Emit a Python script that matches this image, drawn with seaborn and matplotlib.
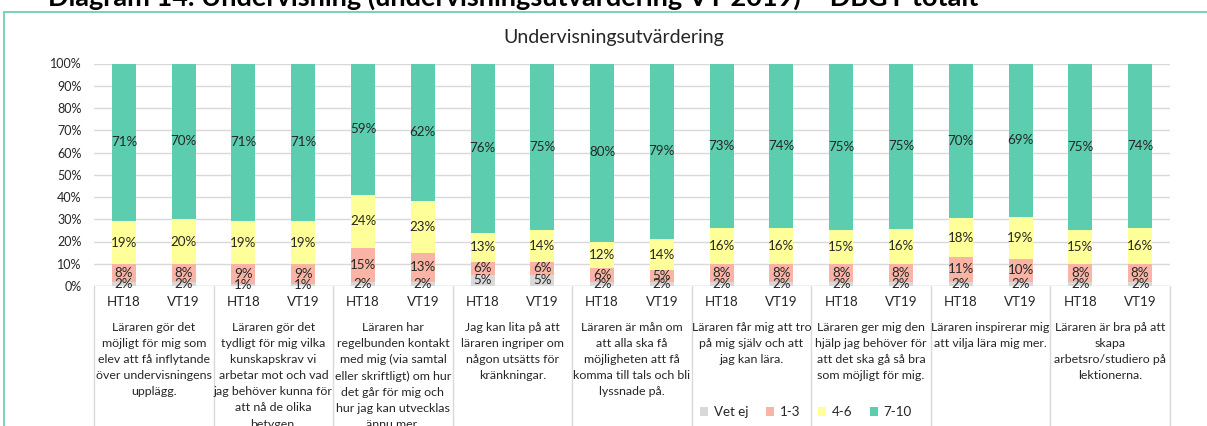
import matplotlib
matplotlib.use("Agg")
import matplotlib.pyplot as plt
import matplotlib.transforms as mtransforms
from matplotlib.patches import Patch, Rectangle
import seaborn as sns
import pandas as pd
import numpy as np

# ---------------- data ----------------
title = "Undervisningsutvärdering"
heading = "Diagram 14. Undervisning (undervisningsutvärdering VT 2019) – DBGY totalt"
periods = ["HT18", "VT19"]
questions = [
    "Läraren gör det\nmöjligt för mig som\nelev att få inflytande\növer undervisningens\nupplägg.",
    "Läraren gör det\ntydligt för mig vilka\nkunskapskrav vi\narbetar mot och vad\njag behöver kunna för\natt nå de olika\nbetygen.",
    "Läraren har\nregelbunden kontakt\nmed mig (via samtal\neller skriftligt) om hur\ndet går för mig och\nhur jag kan utvecklas\nännu mer.",
    "Jag kan lita på att\nläraren ingriper om\nnågon utsätts för\nkränkningar.",
    "Läraren är mån om\natt alla ska få\nmöjligheten att få\nkomma till tals och bli\nlyssnade på.",
    "Läraren får mig att tro\npå mig själv och att\njag kan lära.",
    "Läraren ger mig den\nhjälp jag behöver för\natt det ska gå så bra\nsom möjligt för mig.",
    "Läraren inspirerar mig\natt vilja lära mig mer.",
    "Läraren är bra på att\nskapa\narbetsro/studiero på\nlektionerna.",
]
series = ["Vet ej", "1-3", "4-6", "7-10"]
# one value per bar: order Q1 HT18, Q1 VT19, Q2 HT18, ...
vet_ej = [2, 2, 1, 1, 2, 2, 5, 5, 2, 2, 2, 2, 2, 2, 2, 2, 2, 2]
v13    = [8, 8, 9, 9, 15, 13, 6, 6, 6, 5, 8, 8, 8, 8, 11, 10, 8, 8]
v46    = [19, 20, 19, 19, 24, 23, 13, 14, 12, 14, 16, 16, 15, 16, 18, 19, 15, 16]
v710   = [71, 70, 71, 71, 59, 62, 76, 75, 80, 79, 73, 74, 75, 75, 70, 69, 75, 74]

colors = {"Vet ej": "#D9D9D9", "1-3": "#F9B4A6", "4-6": "#FFFF99", "7-10": "#5CCEAF"}

# ---------------- style ----------------
sns.set_theme(style="white")
plt.rcParams["font.family"] = ["Lato", "DejaVu Sans"]
TXT = "#262626"
FS = 9.6
FSQ = 8.9

W, H = 1207, 426
fig = plt.figure(figsize=(W / 100, H / 100), dpi=100)
ax_l, ax_r, ax_b, ax_t = 94, 1170, 286, 63.5
ax = fig.add_axes([ax_l / W, 1 - ax_b / H, (ax_r - ax_l) / W, (ax_b - ax_t) / H])

n = len(vet_ej)
ids = [f"b{i}" for i in range(n)]
vals = np.array([vet_ej, v13, v46, v710], dtype=float)
pct = vals / vals.sum(axis=0) * 100
cum = np.cumsum(pct, axis=0)

df = pd.DataFrame({"id": ids})
for k, s in enumerate(series):
    df[s] = cum[k]

# draw from top layer down so that lower layers overlay
for k in range(len(series) - 1, -1, -1):
    s = series[k]
    sns.barplot(data=df, x="id", y=s, order=ids, color=colors[s], width=0.4,
                saturation=1, ax=ax, linewidth=0, zorder=3)

# data labels
for i in range(n):
    for k in range(len(series)):
        lo = cum[k - 1, i] if k > 0 else 0
        mid = (lo + cum[k, i]) / 2
        ax.text(i, mid, f"{int(vals[k, i])}%", ha="center", va="center",
                fontsize=FS, color=TXT, zorder=5)

ax.set_ylim(0, 100)
ax.set_xlim(-0.5, n - 0.5)
ax.set_yticks(range(0, 101, 10))
ax.set_yticklabels([f"{v}%" for v in range(0, 101, 10)], fontsize=9, color=TXT)
ax.set_xticks(range(n))
ax.set_xticklabels([periods[i % 2] for i in range(n)], fontsize=FS, color=TXT)
ax.tick_params(axis="both", length=0)
ax.tick_params(axis="y", pad=9)
ax.tick_params(axis="x", pad=7.5)
ax.set_xlabel("")
ax.set_ylabel("")
for sp in ax.spines.values():
    sp.set_visible(False)
ax.grid(axis="y", color="#D9D9D9", lw=1, zorder=0)
ax.set_axisbelow(True)
ax.axhline(0, color="#D9D9D9", lw=1, zorder=1)

trans = mtransforms.blended_transform_factory(ax.transData, ax.transAxes)
for g in range(len(questions) + 1):
    x = g * 2 - 0.5
    ax.plot([x, x], [0, -0.75], transform=trans, color="#D9D9D9", lw=1, clip_on=False)
for g, q in enumerate(questions):
    ax.text(g * 2 + 0.5, -0.163, q, transform=trans, ha="center", va="top",
            fontsize=FSQ, color=TXT, linespacing=1.56)

# title
fig.text(614 / W, 1 - 38 / H, title, ha="center", va="center", fontsize=14, color=TXT)

# heading cut off at the top
fig.text(48 / W, 1 - 5.5 / H, heading, ha="left", va="baseline", fontsize=19.5,
         fontweight="bold", color="#000000")

# frame
fig.patches.append(Rectangle((4 / W, -0.1), 1.2, (1 - 12 / H) + 0.1, fill=False,
                             edgecolor="#6CCFB5", lw=1.3, transform=fig.transFigure))

# legend
handles = [Patch(facecolor=colors[s], edgecolor="none", label=s) for s in series]
fig.legend(handles=handles, loc="center", bbox_to_anchor=(806 / W, 1 - 412 / H), ncol=4,
           frameon=False, fontsize=FS, handlelength=0.6, handleheight=0.6,
           columnspacing=1.3, handletextpad=0.45, labelcolor=TXT)

fig.savefig("out.png", dpi=100)
